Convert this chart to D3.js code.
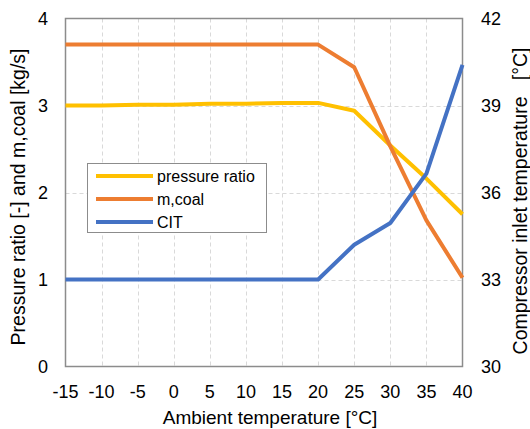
<!DOCTYPE html>
<html>
<head>
<meta charset="utf-8">
<script src="https://cdn.jsdelivr.net/npm/d3@7"></script>
<style>
  body { margin: 0; background: #fff; }
  text { font-family: "Liberation Sans", Arial, sans-serif; fill: #000; }
</style>
</head>
<body>
<svg id="chart" width="530" height="429"></svg>
<script>
// ambient temperature [°C]
var ambient = [-15, -10, -5, 0, 5, 10, 15, 20, 25, 30, 35, 40];
// left axis
var pressureRatio = [3.00, 3.00, 3.01, 3.01, 3.02, 3.02, 3.03, 3.03, 2.94, 2.54, 2.16, 1.75];
var mCoal = [3.70, 3.70, 3.70, 3.70, 3.70, 3.70, 3.70, 3.70, 3.44, 2.53, 1.68, 1.02];
// right axis
var cit = [33, 33, 33, 33, 33, 33, 33, 33, 34.2, 34.95, 36.65, 40.4];

var xTicks = d3.range(-15, 41, 5);
var yLeftTicks = [0, 1, 2, 3, 4];
var yRightTicks = [30, 33, 36, 39, 42];

var svg = d3.select("#chart");

var plotLeft = 65.5, plotRight = 462.5, plotTop = 18.5, plotBottom = 366.5;

var x = d3.scaleLinear().domain([-15, 40]).range([plotLeft, plotRight]);
var yL = d3.scaleLinear().domain([0, 4]).range([plotBottom, plotTop]);
var yR = d3.scaleLinear().domain([30, 42]).range([plotBottom, plotTop]);

// grid
var grid = svg.append("g")
    .attr("stroke", "#d9d9d9")
    .attr("stroke-width", 1)
    .attr("stroke-dasharray", "4,3");

grid.selectAll("line.v")
    .data(xTicks.slice(1, -1))
    .enter().append("line")
    .attr("x1", d => Math.round(x(d)) + 0.5)
    .attr("x2", d => Math.round(x(d)) + 0.5)
    .attr("y1", plotTop)
    .attr("y2", plotBottom);

grid.selectAll("line.h")
    .data(yLeftTicks.slice(1, -1))
    .enter().append("line")
    .attr("x1", plotLeft)
    .attr("x2", plotRight)
    .attr("y1", d => Math.round(yL(d)) + 0.5)
    .attr("y2", d => Math.round(yL(d)) + 0.5);

// plot frame
svg.append("rect")
    .attr("x", plotLeft)
    .attr("y", plotTop)
    .attr("width", plotRight - plotLeft)
    .attr("height", plotBottom - plotTop)
    .attr("fill", "none")
    .attr("stroke", "#8c8c8c")
    .attr("stroke-width", 1.5);

// tick labels
svg.append("g").selectAll("text")
    .data(xTicks)
    .enter().append("text")
    .attr("x", d => x(d))
    .attr("y", 398)
    .attr("text-anchor", "middle")
    .style("font-size", "18px")
    .text(d => d);

svg.append("g").selectAll("text")
    .data(yLeftTicks)
    .enter().append("text")
    .attr("x", 48)
    .attr("y", d => yL(d) + 6)
    .attr("text-anchor", "end")
    .style("font-size", "18px")
    .text(d => d);

svg.append("g").selectAll("text")
    .data(yRightTicks)
    .enter().append("text")
    .attr("x", 481)
    .attr("y", d => yR(d) + 6)
    .attr("text-anchor", "start")
    .style("font-size", "18px")
    .text(d => d);

// axis titles
svg.append("text")
    .attr("x", 270)
    .attr("y", 424)
    .attr("text-anchor", "middle")
    .style("font-size", "19px")
    .text("Ambient temperature [°C]");

svg.append("text")
    .attr("transform", "translate(25,197) rotate(-90)")
    .attr("text-anchor", "middle")
    .style("font-size", "19.5px")
    .text("Pressure ratio [-] and m,coal [kg/s]");

svg.append("text")
    .attr("transform", "translate(527,201) rotate(-90)")
    .attr("text-anchor", "middle")
    .style("font-size", "19.5px")
    .style("white-space", "pre")
    .text("Compressor inlet temperature   [°C]");

// series
var series = [
    { name: "pressure ratio", values: pressureRatio, scale: yL, color: "#ffc000" },
    { name: "m,coal", values: mCoal, scale: yL, color: "#ed7d31" },
    { name: "CIT", values: cit, scale: yR, color: "#4472c4" }
];

series.forEach(function(s) {
    var line = d3.line()
        .x(function(d, i) { return x(ambient[i]); })
        .y(function(d) { return s.scale(d); });
    svg.append("path")
        .datum(s.values)
        .attr("fill", "none")
        .attr("stroke", s.color)
        .attr("stroke-width", 4)
        .attr("stroke-linejoin", "round")
        .attr("d", line);
});

// legend
var legend = svg.append("g");
legend.append("rect")
    .attr("x", 87.5)
    .attr("y", 163.5)
    .attr("width", 179)
    .attr("height", 69)
    .attr("fill", "#fff")
    .attr("stroke", "#8c8c8c")
    .attr("stroke-width", 1);

var rows = legend.selectAll("g.row")
    .data(series)
    .enter().append("g")
    .attr("transform", (d, i) => "translate(0," + (176 + i * 23) + ")");

rows.append("line")
    .attr("x1", 96)
    .attr("x2", 153)
    .attr("y1", 0)
    .attr("y2", 0)
    .attr("stroke", d => d.color)
    .attr("stroke-width", 4);

rows.append("text")
    .attr("x", 157)
    .attr("y", 5.5)
    .style("font-size", "16px")
    .text(d => d.name);
</script>
</body>
</html>
